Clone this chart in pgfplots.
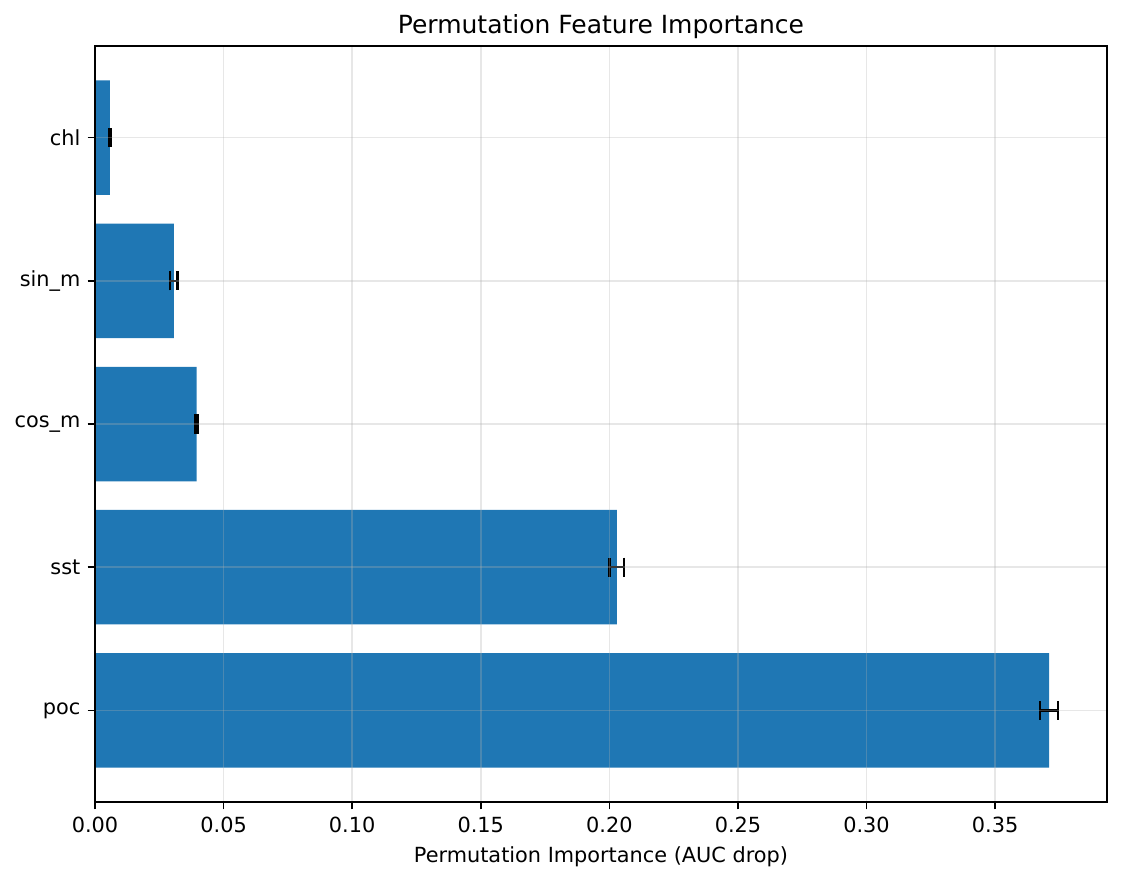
\documentclass[border=0pt]{standalone}
\usepackage{pgfplots}
\pgfplotsset{compat=1.18}
\usepackage{fontspec}
\setmainfont{DejaVu Sans}
\definecolor{mplblue}{HTML}{1F77B4}
\definecolor{gridc}{HTML}{B0B0B0}
\begin{document}
\begin{tikzpicture}
\begin{axis}[
  width=485.8pt, height=362.9pt, scale only axis,
  xmin=0, xmax=0.3935, ymin=-0.64, ymax=4.64,
  xbar, bar width=0.8, bar shift=0pt,
  ytick={0,1,2,3,4},
  yticklabels={poc,sst,cos\_m,sin\_m,chl},
  xtick={0,0.05,0.1,0.15,0.2,0.25,0.3,0.35},
  xticklabel style={/pgf/number format/.cd,fixed,fixed zerofill,precision=2,assume math mode=true},
  tick label style={font=\fontsize{10}{12}\selectfont},
  tick align=outside, tick pos=left,
  major tick length=3.5pt,
  every tick/.style={black, line width=0.8pt},
  grid=major,
  major grid style={gridc, opacity=0.3, line width=0.8pt},
  axis on top,
  axis line style={black, line width=0.8pt},
  title={Permutation Feature Importance},
  every axis title/.style={font=\fontsize{12}{14}\selectfont, at={(0.5,1)}, anchor=base, yshift=6pt},
  xlabel={Permutation Importance (AUC drop)},
  xlabel style={font=\fontsize{10}{12}\selectfont},
  clip=false,
]
\addplot[fill=mplblue, draw=none,
  error bars/.cd, x dir=both, x explicit, error mark=|,
  error bar style={black, line width=1.1pt},
  error mark options={black, line width=1.1pt, mark size=4.6pt}]
  coordinates {
  (0.3710,0) +- (0.0035,0)
  (0.2029,1) +- (0.0029,0)
  (0.0395,2) +- (0.0004,0)
  (0.0307,3) +- (0.0014,0)
  (0.0058,4) +- (0.0004,0)
  };
\end{axis}
\pgfresetboundingbox
\path ([shift={(-45.6pt,-37.9pt)}]current axis.south west) rectangle ([shift={(7.2pt,22.1pt)}]current axis.north east);
\end{tikzpicture}
\end{document}
